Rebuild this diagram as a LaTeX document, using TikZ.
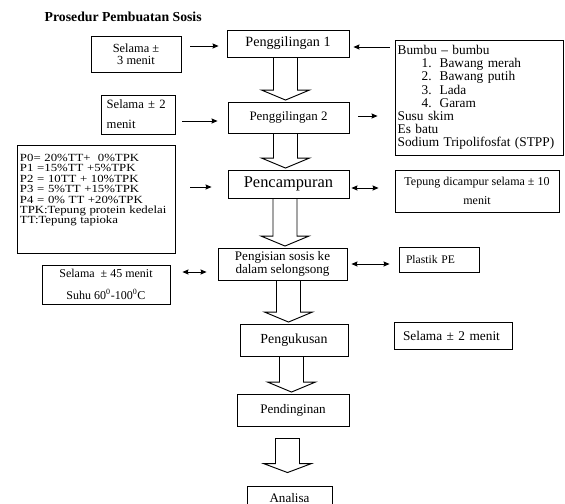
\documentclass[tikz,border=0pt]{standalone}
\usepackage{fontspec}
\setmainfont{Liberation Serif}
\newfontfamily\widefont[FakeStretch=1.17]{Liberation Serif}
\usetikzlibrary{arrows.meta, calc, positioning}
\lineskiplimit=-20pt

\tikzset{
  box/.style 2 args={draw, line width=0.7pt, inner sep=0pt, align=center,
    minimum width=#1*0.75pt, minimum height=#2*0.75pt, font=\fontsize{10}{12}\selectfont},
  fs/.style={font=\fontsize{#1}{12}\selectfont},
  arr/.style={line width=0.6pt, -{Stealth[length=4.5pt,width=3.8pt,inset=0.6pt]}},
  darr/.style={line width=0.6pt, {Stealth[length=4.5pt,width=3.8pt,inset=0.6pt]}-{Stealth[length=4.5pt,width=3.8pt,inset=0.6pt]}},
  blk/.style={line width=0.7pt, line join=miter}
}

% block arrow: from node, to node, x offset
\newcommand{\blockarr}[3]{%
  \coordinate (t) at ($(#1.south)+(#3,0)$);
  \coordinate (b) at ($(t |- #2.north)+(0,-1.5)$);
  \draw[blk] ($(t)+(-12,0)$) -- ($(b)+(-12,-10)$) -- ($(b)+(-24,-10)$) -- (b)
    -- ($(b)+(24,-10)$) -- ($(b)+(12,-10)$) -- ($(t)+(12,0)$);
}

\begin{document}
\begin{tikzpicture}[x=0.75pt, y=-0.75pt]
\path[use as bounding box, fill=white] (0,0) rectangle (565,504);

\node[anchor=base west, font=\bfseries\fontsize{10.3}{12}\selectfont] (ttl) at (40,21) {Prosedur Pembuatan Sosis};

% main column
\node[box={122}{27}, fs=10.6] (g1) at (288,43.5) {Penggilingan 1};
\node[box={121}{31}, fs=9.7] (g2) at (288.5,117.5) {Penggilingan 2};
\node[box={121}{28}, fs=12.3] (pc) at (288.5,184) {Pencampuran};
\node[box={129}{32}, font=\fontsize{9.8}{10}\selectfont] (pe) at (282.5,264) {Pengisian sosis ke\\dalam selongsong};
\node[box={108}{32}, fs=10.4] (pk) at (294,340) {Pengukusan};
\node[box={112}{32}, fs=9.8] (pd) at (293,410) {Pendinginan};
\node[box={85}{24}, fs=9.8] (an) at (289.5,498) {Analisa};

% side boxes
\node[box={90}{36}, font=\fontsize{9.3}{9}\selectfont] (s3) at (136,54) {Selama ±\\3 menit};
\node[box={74}{39}, align=left, text width=47pt, font=\fontsize{9.5}{15}\selectfont] (s2) at (138,114.5) {Selama ± 2\\menit};
\node[box={168}{115}, align=left, text width=122pt, font=\fontsize{10}{9.9}\selectfont] (bb) at (479,97.5)
  {Bumbu – bumbu\\
   \hspace*{18pt}\makebox[13.5pt][l]{1.}Bawang merah\\
   \hspace*{18pt}\makebox[13.5pt][l]{2.}Bawang putih\\
   \hspace*{18pt}\makebox[13.5pt][l]{3.}Lada\\
   \hspace*{18pt}\makebox[13.5pt][l]{4.}Garam\\
   Susu skim\\
   Es batu\\
   Sodium Tripolifosfat (STPP)};
\node[box={158}{108}, align=left, text width=114pt, font=\widefont\fontsize{8.2}{7.8}\selectfont] (pb) at (96,199)
  {P0= 20\%TT+~~0\%TPK\\
   P1 =15\%TT +5\%TPK\\
   P2 = 10TT + 10\%TPK\\
   P3 = 5\%TT +15\%TPK\\
   P4 = 0\% TT +20\%TPK\\
   TPK:Tepung protein kedelai\\
   TT:Tepung tapioka\\[7pt]\mbox{}};
\node[box={164}{42}, font=\fontsize{9}{14.25}\selectfont] (tp) at (477,191) {Tepung dicampur selama ± 10\\menit};
\node[box={80}{25}, align=left, text width=49.5pt, font=\fontsize{8.7}{10}\selectfont] (pl) at (439,259.5) {Plastik PE};
\node[box={128}{39}, font=\fontsize{9}{16.5}\selectfont] (s45) at (106,284.5) {Selama~~± 45 menit\\Suhu 60\textsuperscript{0}-100\textsuperscript{0}C};
\node[box={118}{27}, align=left, text width=75pt] (s2b) at (453,335.5) {Selama ± 2 menit};

% thin arrows
\draw[arr] ($(s3.east)+(9,-8)$) -- ($(g1.west)+(-8,2.5)$);
\draw[arr] ($(bb.west)+(-5,-50.5)$) -- ($(g1.east)+(4,3.5)$);
\draw[arr] ($(s2.east)+(7,6.5)$) -- ($(g2.west)+(-10,3.5)$);
\draw[arr] ($(g2.east)+(9,-1.5)$) -- ($(bb.west)+(-17,18.5)$);
\draw[arr] ($(pb.east)+(15,-12)$) -- ($(pc.west)+(-16,3)$);
\draw[darr] ($(pc.east)+(2,4)$) -- ($(tp.west)+(-16,-3)$);
\draw[darr] ($(pe.east)+(4,0)$) -- ($(pl.west)+(-9,4.5)$);
\draw[darr] ($(s45.east)+(12,-12.5)$) -- ($(pe.west)+(-11,8)$);

% block arrows
\blockarr{g1}{g2}{-2.5}
\blockarr{g2}{pc}{-3}
\blockarr{pc}{pe}{-3.5}
\blockarr{pe}{pk}{6}
\blockarr{pk}{pd}{-2.5}
\coordinate (t) at ($(pd.south)+(-5.5,12)$);
\coordinate (b) at ($(t |- an.north)+(0,-13)$);
\draw[blk] ($(t)+(-12,0)$) -- ($(b)+(-12,-9)$) -- ($(b)+(-24,-9)$) -- (b)
  -- ($(b)+(24,-9)$) -- ($(b)+(12,-9)$) -- ($(t)+(12,0)$) -- cycle;
\end{tikzpicture}
\end{document}
